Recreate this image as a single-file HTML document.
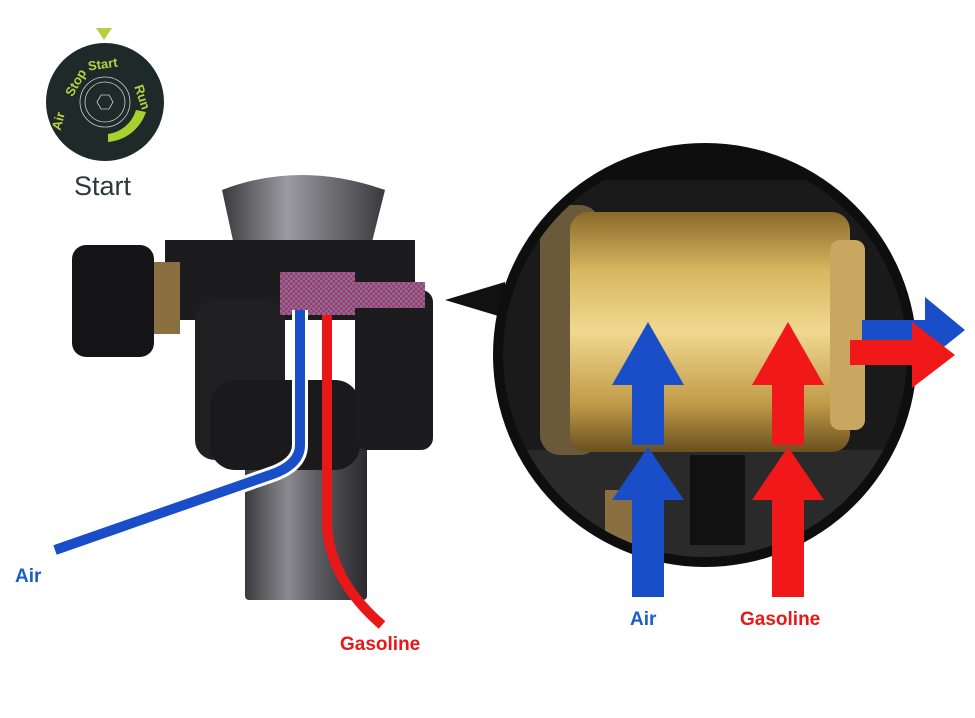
<!DOCTYPE html>
<html><head><meta charset="utf-8"><style>
body{margin:0;background:#fff;}
svg{display:block}
text{font-family:"Liberation Sans",Arial,sans-serif}
</style></head><body>
<svg width="975" height="718" viewBox="0 0 975 718" xmlns="http://www.w3.org/2000/svg">
<defs>
<pattern id="chk" width="5" height="5" patternUnits="userSpaceOnUse">
<rect width="5" height="5" fill="#c0303a"/><rect width="2.5" height="2.5" fill="#6a78c8"/><rect x="2.5" y="2.5" width="2.5" height="2.5" fill="#6a78c8"/>
</pattern>
<linearGradient id="tube" x1="0" x2="1"><stop offset="0" stop-color="#3a3a3e"/><stop offset="0.35" stop-color="#8a8a90"/><stop offset="0.6" stop-color="#5a5a60"/><stop offset="1" stop-color="#2a2a2e"/></linearGradient>
<linearGradient id="gold" x1="0" x2="0" y1="0" y2="1"><stop offset="0" stop-color="#8a6a2a"/><stop offset="0.25" stop-color="#d8b860"/><stop offset="0.5" stop-color="#f0d890"/><stop offset="0.8" stop-color="#c09a48"/><stop offset="1" stop-color="#6a5020"/></linearGradient>
<linearGradient id="cap" x1="0" x2="1"><stop offset="0" stop-color="#3a3a3e"/><stop offset="0.4" stop-color="#9a9aa0"/><stop offset="1" stop-color="#3a3a3e"/></linearGradient>
<clipPath id="cc"><circle cx="705" cy="355" r="202"/></clipPath>
</defs>

<!-- dial -->
<circle cx="105" cy="102" r="59" fill="#1e2a2a"/>
<polygon points="96,28 112,28 104,40" fill="#b8d040"/>
<circle cx="105" cy="102" r="25" fill="none" stroke="#ccc" stroke-width="0.8"/>
<circle cx="105" cy="102" r="20" fill="none" stroke="#ccc" stroke-width="0.8"/>
<polygon points="97,102 101,95 109,95 113,102 109,109 101,109" fill="none" stroke="#ccc" stroke-width="0.8"/>
<path d="M108,134 A34,34 0 0 0 136,110 L146,112 A44,44 0 0 1 108,142 Z" fill="#a8d030"/>
<text x="88" y="69" fill="#b8d040" font-size="13" font-weight="bold" transform="rotate(-8 100 65)">Start</text>
<text x="64" y="93" fill="#b8d040" font-size="13" font-weight="bold" transform="rotate(-60 72 88)">Stop</text>
<text x="52" y="128" fill="#b8d040" font-size="13" font-weight="bold" transform="rotate(-75 58 124)">Air</text>
<text x="128" y="95" fill="#b8d040" font-size="13" font-weight="bold" transform="rotate(72 137 95)">Run</text>
<text x="74" y="195" fill="#2a3a3a" font-size="27">Start</text>

<!-- left device -->
<rect x="245" y="400" width="122" height="200" rx="4" fill="url(#tube)"/>
<path d="M222,190 Q300,160 385,190 L370,250 L235,250 Z" fill="url(#cap)"/>
<rect x="165" y="240" width="250" height="80" fill="#1c1c1e"/>
<rect x="140" y="262" width="40" height="72" fill="#8a7040"/>
<rect x="72" y="245" width="82" height="112" rx="14" fill="#141416"/>
<rect x="195" y="300" width="90" height="160" rx="20" fill="#202022"/>
<rect x="210" y="380" width="150" height="90" rx="25" fill="#1a1a1c"/>
<rect x="355" y="290" width="78" height="160" rx="12" fill="#1c1c1e"/>
<rect x="280" y="272" width="75" height="43" fill="url(#chk)"/>
<rect x="355" y="282" width="70" height="26" fill="url(#chk)"/>
<path d="M300,310 L300,445 Q300,465 270,475 L55,550" fill="none" stroke="#fff" stroke-width="16"/>
<path d="M300,310 L300,445 Q300,465 270,475 L55,550" fill="none" stroke="#1a4ec8" stroke-width="10"/>
<path d="M327,315 L327,525 Q330,580 382,625" fill="none" stroke="#e81818" stroke-width="10"/>
<text x="15" y="582" fill="#1a5ec8" font-size="19" font-weight="bold">Air</text>
<text x="340" y="650" fill="#e81818" font-size="19" font-weight="bold">Gasoline</text>

<!-- right zoom -->
<polygon points="445,300 505,282 505,318" fill="#111"/>
<circle cx="705" cy="355" r="212" fill="#0e0e0e"/>
<g clip-path="url(#cc)">
<rect x="495" y="180" width="420" height="360" fill="#1a1a1a"/>
<rect x="495" y="450" width="420" height="120" fill="#2a2a2a"/>
<rect x="540" y="205" width="60" height="250" rx="20" fill="#6a5a3a"/>
<rect x="570" y="212" width="280" height="240" rx="18" fill="url(#gold)"/>
<rect x="830" y="240" width="35" height="190" rx="10" fill="#c8a860"/>
<rect x="690" y="455" width="55" height="90" fill="#111"/>
<rect x="605" y="490" width="40" height="60" fill="#8a7040"/>
</g>
<!-- arrows -->
<g fill="#1a4ec8">
<polygon points="612,385 648,322 684,385 664,385 664,445 632,445 632,385"/>
<polygon points="612,500 648,447 684,500 664,500 664,597 632,597 632,500"/>
<polygon points="862,320 925,320 925,297 965,330 925,362 925,340 862,340"/>
</g>
<g fill="#f01818">
<polygon points="752,385 788,322 824,385 804,385 804,445 772,445 772,385"/>
<polygon points="752,500 788,447 824,500 804,500 804,597 772,597 772,500"/>
<polygon points="850,340 912,340 912,322 955,355 912,388 912,365 850,365"/>
</g>
<text x="630" y="625" fill="#1a5ec8" font-size="19" font-weight="bold">Air</text>
<text x="740" y="625" fill="#e81818" font-size="19" font-weight="bold">Gasoline</text>
</svg>
</body></html>
